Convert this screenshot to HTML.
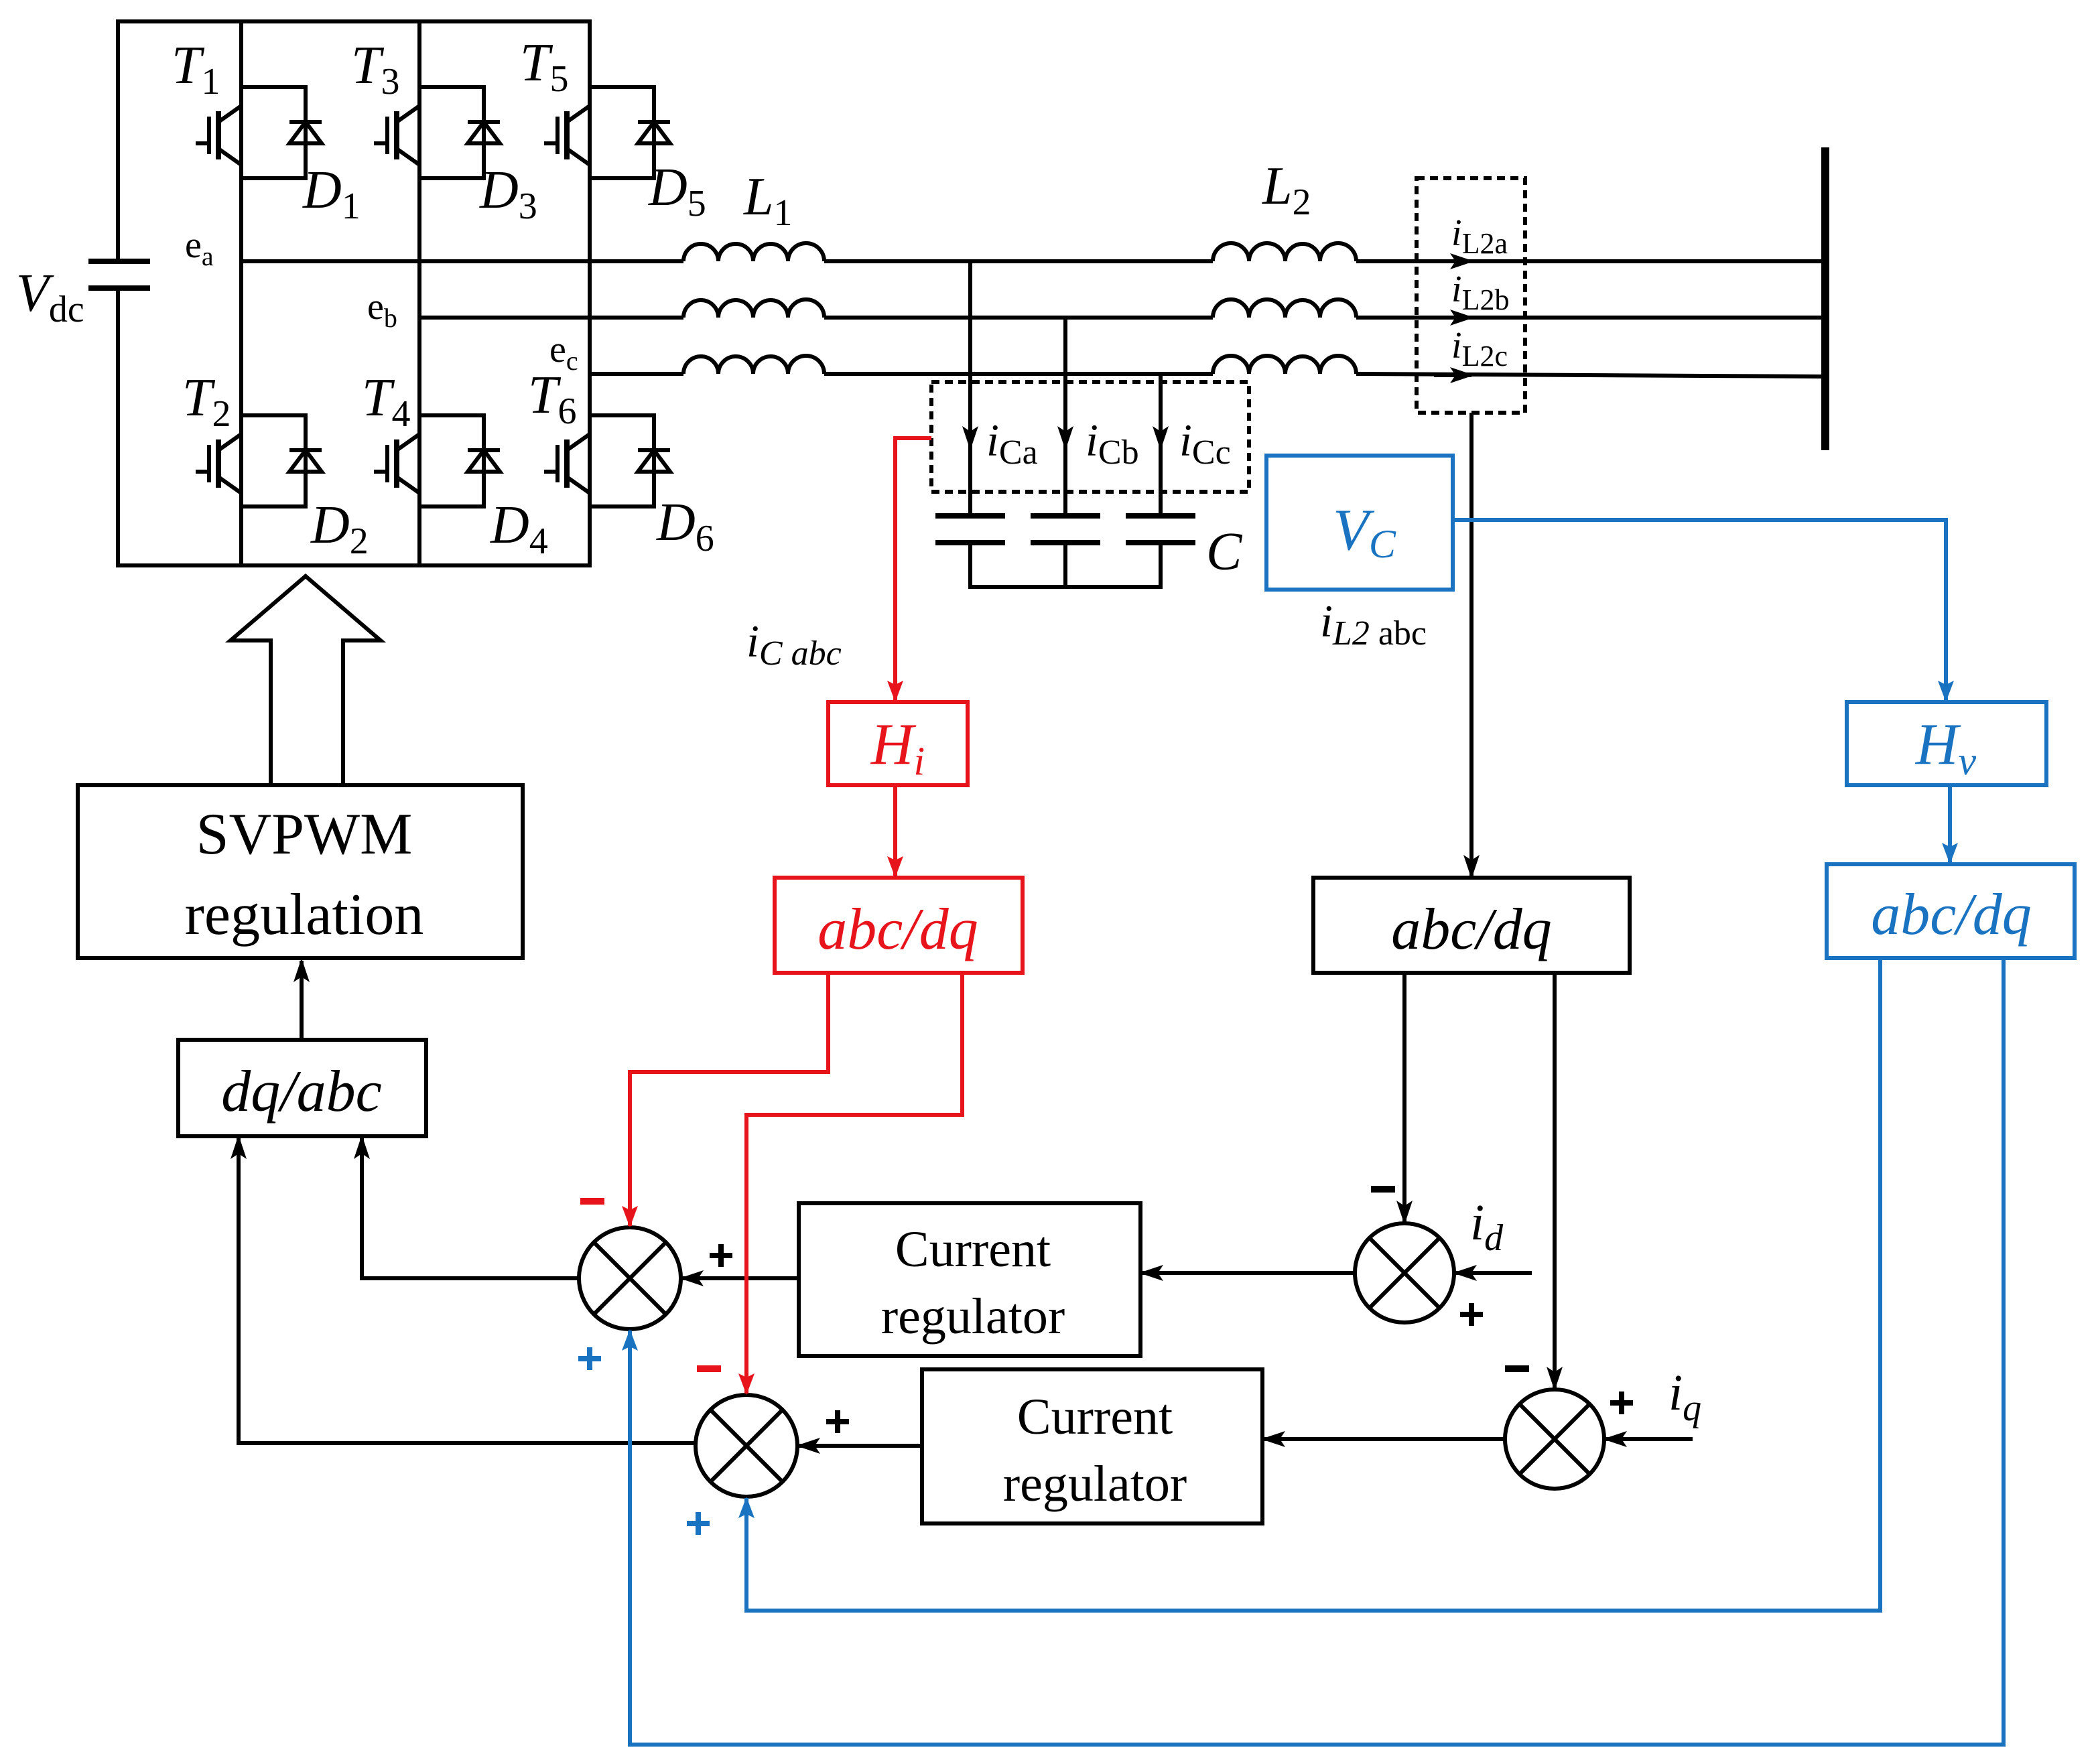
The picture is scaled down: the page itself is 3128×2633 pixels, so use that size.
<!DOCTYPE html>
<html><head><meta charset="utf-8"><style>
html,body{margin:0;padding:0;background:#fff}
svg{display:block}
text{font-family:"Liberation Serif",serif}
</style></head><body>
<svg width="3128" height="2633" viewBox="0 0 1564 1316.5" xmlns="http://www.w3.org/2000/svg">
<defs>
<marker id="ak" markerWidth="18" markerHeight="12" refX="16" refY="6" orient="auto" markerUnits="userSpaceOnUse"><path d="M0,0 L18,6 L0,12 L4,6 z" fill="#000"/></marker>
<marker id="ab" markerWidth="16" markerHeight="12" refX="15" refY="6" orient="auto" markerUnits="userSpaceOnUse"><path d="M0,0 L16,6 L0,12 L3,6 z" fill="#1a73c0"/></marker>
<marker id="ar" markerWidth="16" markerHeight="12" refX="15" refY="6" orient="auto" markerUnits="userSpaceOnUse"><path d="M0,0 L16,6 L0,12 L3,6 z" fill="#e8141c"/></marker>
<g id="sw" stroke="#000" stroke-width="3" fill="none">
<line x1="-24" y1="32" x2="-24" y2="60"/><line x1="-34" y1="52" x2="-24" y2="52"/>
<line x1="-17" y1="28" x2="-17" y2="64" stroke-width="4"/>
<line x1="-17" y1="36" x2="0" y2="24"/><line x1="-17" y1="56" x2="0" y2="68"/>
<path d="M0,10 H48 V78 H0"/>
<path d="M36,52 H60 L48,36 Z" fill="none"/><line x1="36" y1="36" x2="60" y2="36"/>
<line x1="48" y1="36" x2="48" y2="52"/>
</g>
<g id="plus"><rect x="-8.5" y="-2" width="17" height="4"/><rect x="-2" y="-8.5" width="4" height="17"/></g>
</defs>
<g stroke="#000" stroke-width="3" fill="none">
<path d="M88,195 V16 H440 V279"/><path d="M88,215 V422 H440 V300"/>
<line x1="180" y1="16" x2="180" y2="422"/><line x1="313" y1="16" x2="313" y2="422"/>
<line x1="440" y1="279" x2="440" y2="422"/>
<line x1="66" y1="195" x2="112" y2="195" stroke-width="4"/><line x1="66" y1="215" x2="112" y2="215" stroke-width="4"/>
<line x1="180" y1="195" x2="510" y2="195"/><line x1="313" y1="237" x2="510" y2="237"/><line x1="440" y1="279" x2="510" y2="279"/>
<line x1="615" y1="195" x2="905" y2="195"/><line x1="615" y1="237" x2="905" y2="237"/><line x1="615" y1="279" x2="905" y2="279"/>
<line x1="1012" y1="195" x2="1362" y2="195"/><line x1="1012" y1="237" x2="1362" y2="237"/><line x1="1012" y1="279" x2="1362" y2="281"/>
<path d="M510,195 a13,13 0 0 1 26,0 a13,13 0 0 1 26,0 a13,13 0 0 1 26,0 a13,13 0 0 1 27,0"/>
<path d="M510,237 a13,13 0 0 1 26,0 a13,13 0 0 1 26,0 a13,13 0 0 1 26,0 a13,13 0 0 1 27,0"/>
<path d="M510,279 a13,13 0 0 1 26,0 a13,13 0 0 1 26,0 a13,13 0 0 1 26,0 a13,13 0 0 1 27,0"/>
<path d="M905,195 a13,13 0 0 1 27,0 a13,13 0 0 1 27,0 a13,13 0 0 1 26,0 a13,13 0 0 1 27,0"/>
<path d="M905,237 a13,13 0 0 1 27,0 a13,13 0 0 1 27,0 a13,13 0 0 1 26,0 a13,13 0 0 1 27,0"/>
<path d="M905,279 a13,13 0 0 1 27,0 a13,13 0 0 1 27,0 a13,13 0 0 1 26,0 a13,13 0 0 1 27,0"/>
<line x1="1362" y1="110" x2="1362" y2="336" stroke-width="6"/>
<line x1="724" y1="195" x2="724" y2="334" marker-end="url(#ak)"/><line x1="724" y1="332" x2="724" y2="385"/>
<line x1="795" y1="237" x2="795" y2="334" marker-end="url(#ak)"/><line x1="795" y1="332" x2="795" y2="385"/>
<line x1="866" y1="279" x2="866" y2="334" marker-end="url(#ak)"/><line x1="866" y1="332" x2="866" y2="385"/>
<g stroke-width="4"><line x1="698" y1="385" x2="750" y2="385"/><line x1="698" y1="405" x2="750" y2="405"/>
<line x1="769" y1="385" x2="821" y2="385"/><line x1="769" y1="405" x2="821" y2="405"/>
<line x1="840" y1="385" x2="892" y2="385"/><line x1="840" y1="405" x2="892" y2="405"/></g>
<path d="M724,405 V438 H866 V405 M795,405 V438"/>
<rect x="695" y="285" width="237" height="82" stroke-dasharray="6,4"/>
<rect x="1057" y="133" width="81" height="175" stroke-dasharray="6,4"/>
<line x1="1070" y1="195" x2="1098" y2="195" marker-end="url(#ak)"/>
<line x1="1070" y1="237" x2="1098" y2="237" marker-end="url(#ak)"/>
<line x1="1070" y1="280" x2="1098" y2="280" marker-end="url(#ak)"/>
<line x1="1098" y1="308" x2="1098" y2="654" marker-end="url(#ak)"/>
<rect x="980" y="655" width="236" height="71"/>
<rect x="58" y="586" width="332" height="129"/>
<rect x="133" y="776" width="185" height="72"/>
<rect x="596" y="898" width="255" height="114"/>
<rect x="688" y="1022" width="254" height="115"/>
<path d="M202,586 V478 H172 L228,430 L284,478 H256 V586"/>
<line x1="225" y1="776" x2="225" y2="717" marker-end="url(#ak)"/>
<circle cx="470" cy="954" r="38"/><path d="M443,927 L497,981 M497,927 L443,981"/>
<circle cx="557" cy="1079" r="38"/><path d="M530,1052 L584,1106 M584,1052 L530,1106"/>
<circle cx="1048" cy="950" r="37"/><path d="M1022,924 L1074,976 M1074,924 L1022,976"/>
<circle cx="1160" cy="1074" r="37"/><path d="M1134,1048 L1186,1100 M1186,1048 L1134,1100"/>
<line x1="1048" y1="726" x2="1048" y2="912" marker-end="url(#ak)"/>
<line x1="1160" y1="726" x2="1160" y2="1036" marker-end="url(#ak)"/>
<line x1="1143" y1="950" x2="1086" y2="950" marker-end="url(#ak)"/>
<line x1="1263" y1="1074" x2="1198" y2="1074" marker-end="url(#ak)"/>
<line x1="1011" y1="950" x2="852" y2="950" marker-end="url(#ak)"/>
<line x1="1123" y1="1074" x2="943" y2="1074" marker-end="url(#ak)"/>
<line x1="596" y1="954" x2="509" y2="954" marker-end="url(#ak)"/>
<line x1="688" y1="1079" x2="596" y2="1079" marker-end="url(#ak)"/>
<path d="M432,954 H270 V849" marker-end="url(#ak)"/>
<path d="M519,1077 H178 V849" marker-end="url(#ak)"/>
</g>
<use href="#sw" x="180" y="55"/><use href="#sw" x="313" y="55"/><use href="#sw" x="440" y="55"/>
<use href="#sw" x="180" y="300"/><use href="#sw" x="313" y="300"/><use href="#sw" x="440" y="300"/>
<g stroke="#e8141c" stroke-width="3" fill="none">
<path d="M695,327 H668 V523" marker-end="url(#ar)"/>
<rect x="618" y="524" width="104" height="62"/>
<line x1="668" y1="586" x2="668" y2="654" marker-end="url(#ar)"/>
<rect x="578" y="655" width="185" height="71"/>
<path d="M618,726 V800 H470 V915" marker-end="url(#ar)"/>
<path d="M718,726 V832 H557 V1040" marker-end="url(#ar)"/>
</g>
<g stroke="#1a73c0" stroke-width="3" fill="none">
<rect x="945" y="340" width="139" height="100"/>
<path d="M1084,388 H1452 V523" marker-end="url(#ab)"/>
<rect x="1378" y="524" width="149" height="62"/>
<line x1="1455" y1="586" x2="1455" y2="644" marker-end="url(#ab)"/>
<rect x="1363" y="645" width="185" height="70"/>
<path d="M1403,715 V1202 H557 V1118" marker-end="url(#ab)"/>
<path d="M1495,715 V1302 H470 V993" marker-end="url(#ab)"/>
</g>
<g font-style="italic" font-size="40" fill="#000">
<text x="128" y="62">T<tspan font-size="28" font-style="normal" dy="8">1</tspan></text>
<text x="262" y="62">T<tspan font-size="28" font-style="normal" dy="8">3</tspan></text>
<text x="388" y="60">T<tspan font-size="28" font-style="normal" dy="8">5</tspan></text>
<text x="136" y="310">T<tspan font-size="28" font-style="normal" dy="8">2</tspan></text>
<text x="270" y="310">T<tspan font-size="28" font-style="normal" dy="8">4</tspan></text>
<text x="394" y="308">T<tspan font-size="28" font-style="normal" dy="8">6</tspan></text>
<text x="226" y="155">D<tspan font-size="28" font-style="normal" dy="8">1</tspan></text>
<text x="358" y="155">D<tspan font-size="28" font-style="normal" dy="8">3</tspan></text>
<text x="484" y="153">D<tspan font-size="28" font-style="normal" dy="8">5</tspan></text>
<text x="232" y="405">D<tspan font-size="28" font-style="normal" dy="8">2</tspan></text>
<text x="366" y="405">D<tspan font-size="28" font-style="normal" dy="8">4</tspan></text>
<text x="490" y="403">D<tspan font-size="28" font-style="normal" dy="8">6</tspan></text>
<text x="555" y="160">L<tspan font-size="28" font-style="normal" dy="8">1</tspan></text>
<text x="942" y="152">L<tspan font-size="28" font-style="normal" dy="8">2</tspan></text>
<text x="12" y="232">V<tspan font-size="28" font-style="normal" dy="8">dc</tspan></text>
<text x="900" y="425">C</text>
</g>
<g font-size="28" fill="#000">
<text x="138" y="192">e<tspan font-size="20" dy="6">a</tspan></text>
<text x="274" y="238">e<tspan font-size="20" dy="6">b</tspan></text>
<text x="410" y="270">e<tspan font-size="20" dy="6">c</tspan></text>
<text x="1083" y="183"><tspan font-style="italic">i</tspan><tspan font-size="22" dy="6">L2a</tspan></text>
<text x="1083" y="225"><tspan font-style="italic">i</tspan><tspan font-size="22" dy="6">L2b</tspan></text>
<text x="1083" y="267"><tspan font-style="italic">i</tspan><tspan font-size="22" dy="6">L2c</tspan></text>
<text x="736" y="340" font-size="34"><tspan font-style="italic">i</tspan><tspan font-size="26" dy="6">Ca</tspan></text>
<text x="810" y="340" font-size="34"><tspan font-style="italic">i</tspan><tspan font-size="26" dy="6">Cb</tspan></text>
<text x="880" y="340" font-size="34"><tspan font-style="italic">i</tspan><tspan font-size="26" dy="6">Cc</tspan></text>
<text x="557" y="490" font-size="34" font-style="italic">i<tspan font-size="26" dy="6">C abc</tspan></text>
<text x="985" y="475" font-size="34"><tspan font-style="italic">i</tspan><tspan font-size="26" dy="6" font-style="italic">L2</tspan><tspan font-size="26"> abc</tspan></text>
<text x="1097" y="925" font-size="38" font-style="italic">i<tspan font-size="28" dy="8">d</tspan></text>
<text x="1245" y="1052" font-size="38" font-style="italic">i<tspan font-size="28" dy="8">q</tspan></text>
</g>
<g font-size="44" text-anchor="middle" fill="#000">
<text x="227" y="637">SVPWM</text>
<text x="227" y="697">regulation</text>
<text x="225" y="829" font-style="italic">dq/abc</text>
<text x="1098" y="708" font-style="italic">abc/dq</text>
<text x="670" y="708" font-style="italic" fill="#e8141c">abc/dq</text>
<text x="1456" y="697" font-style="italic" fill="#1a73c0">abc/dq</text>
<text x="670" y="570" font-style="italic" fill="#e8141c">H<tspan font-size="30" dy="8">i</tspan></text>
<text x="1452" y="570" font-style="italic" fill="#1a73c0">H<tspan font-size="30" dy="8">v</tspan></text>
<text x="1018" y="410" font-style="italic" fill="#1a73c0">V<tspan font-size="30" dy="6">C</tspan></text>
</g>
<g font-size="38" text-anchor="middle" fill="#000">
<text x="726" y="945">Current</text><text x="726" y="995">regulator</text>
<text x="817" y="1070">Current</text><text x="817" y="1120">regulator</text>
</g>
<g>
<rect x="433" y="894" width="18" height="5" fill="#e8141c"/>
<rect x="520" y="1019" width="18" height="5" fill="#e8141c"/>
<rect x="1023" y="885" width="18" height="5" fill="#000"/>
<rect x="1123" y="1019" width="18" height="5" fill="#000"/>
</g>
<g fill="#000">
<use href="#plus" x="538" y="937"/>
<use href="#plus" x="625" y="1061"/>
<use href="#plus" x="1098" y="981"/>
<use href="#plus" x="1210" y="1047"/>
</g>
<g fill="#1a73c0">
<use href="#plus" x="440" y="1014"/>
<use href="#plus" x="521" y="1137"/>
</g>
</svg>
</body></html>
